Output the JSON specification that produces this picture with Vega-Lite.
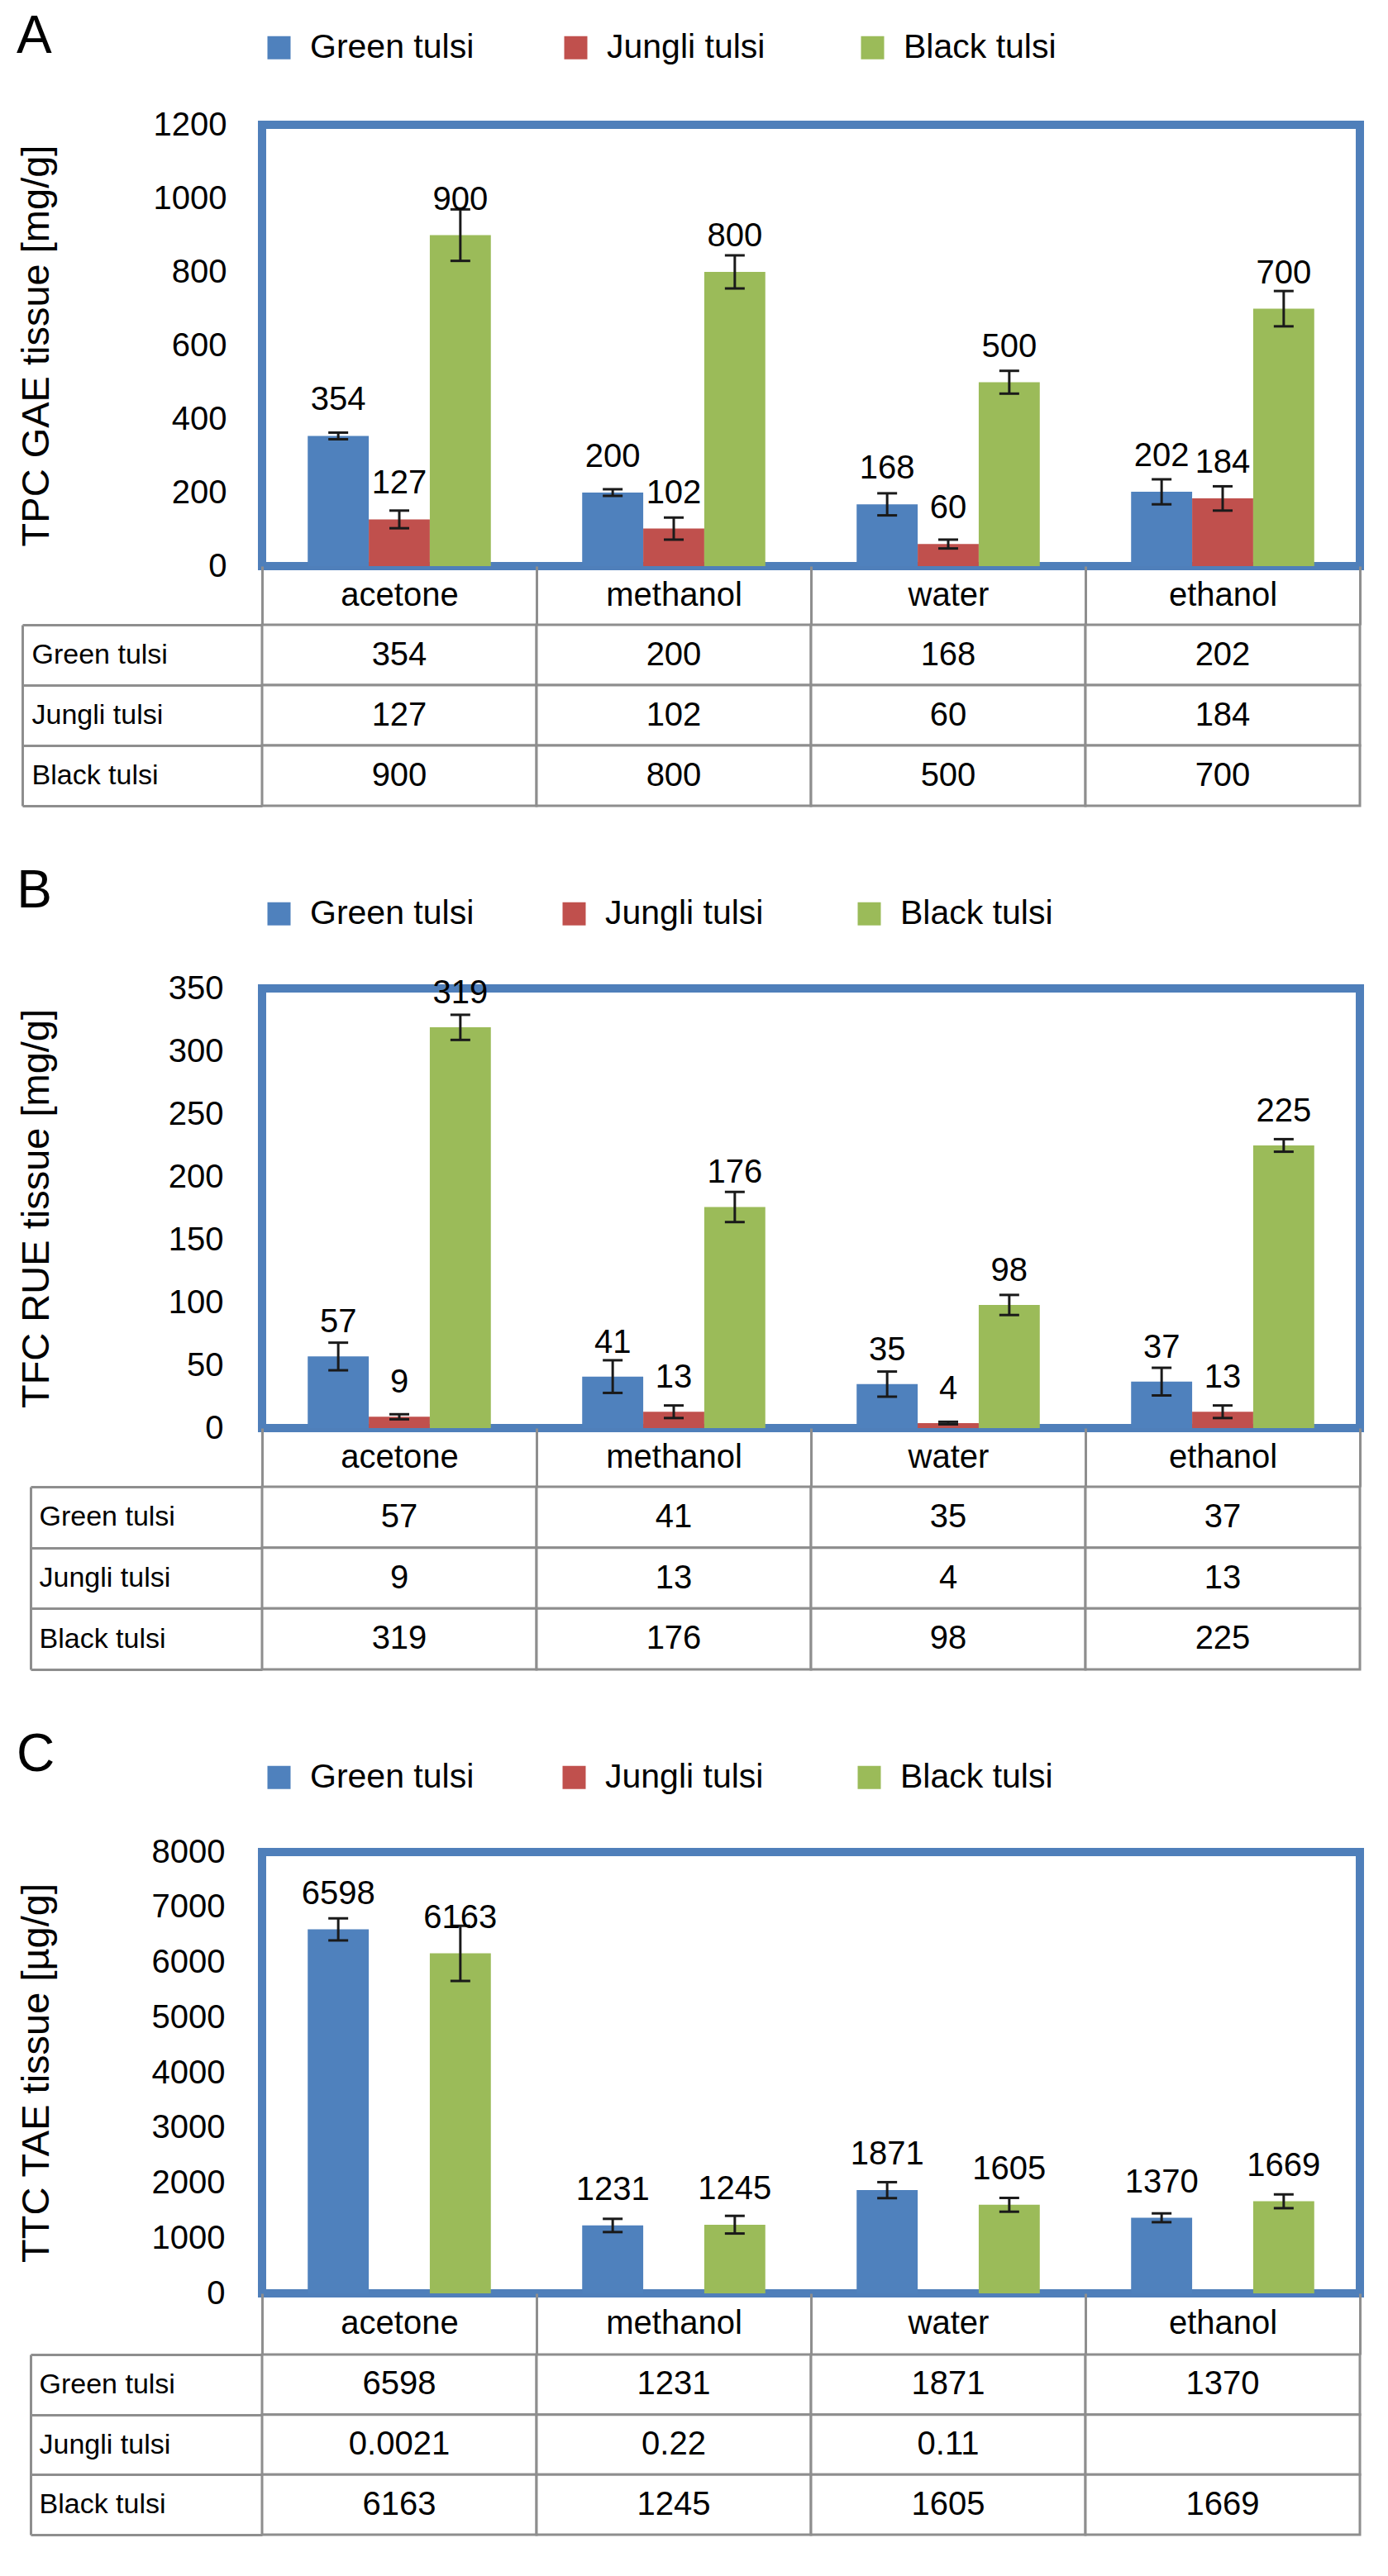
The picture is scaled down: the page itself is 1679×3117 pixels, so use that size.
{
  "$schema": "https://vega.github.io/schema/vega-lite/v6.json",
  "background": "white",
  "padding": {"left": 15, "top": 8, "right": 10, "bottom": 10},
  "config": {
    "font": "Liberation Sans",
    "view": {"stroke": null},
    "axis": {"labelColor": "black", "titleColor": "black", "grid": false}
  },
  "datasets": {
    "A": [
      {"solvent": "acetone", "series": "Green tulsi", "value": 354, "lo": 345, "hi": 363},
      {"solvent": "acetone", "series": "Jungli tulsi", "value": 127, "lo": 103, "hi": 151},
      {"solvent": "acetone", "series": "Black tulsi", "value": 900, "lo": 830, "hi": 970},
      {"solvent": "methanol", "series": "Green tulsi", "value": 200, "lo": 191, "hi": 209},
      {"solvent": "methanol", "series": "Jungli tulsi", "value": 102, "lo": 72, "hi": 132},
      {"solvent": "methanol", "series": "Black tulsi", "value": 800, "lo": 755, "hi": 845},
      {"solvent": "water", "series": "Green tulsi", "value": 168, "lo": 138, "hi": 198},
      {"solvent": "water", "series": "Jungli tulsi", "value": 60, "lo": 48, "hi": 72},
      {"solvent": "water", "series": "Black tulsi", "value": 500, "lo": 469, "hi": 531},
      {"solvent": "ethanol", "series": "Green tulsi", "value": 202, "lo": 168, "hi": 236},
      {"solvent": "ethanol", "series": "Jungli tulsi", "value": 184, "lo": 151, "hi": 217},
      {"solvent": "ethanol", "series": "Black tulsi", "value": 700, "lo": 652, "hi": 748}
    ],
    "B": [
      {"solvent": "acetone", "series": "Green tulsi", "value": 57, "lo": 46, "hi": 68},
      {"solvent": "acetone", "series": "Jungli tulsi", "value": 9, "lo": 7, "hi": 11},
      {"solvent": "acetone", "series": "Black tulsi", "value": 319, "lo": 309, "hi": 329},
      {"solvent": "methanol", "series": "Green tulsi", "value": 41, "lo": 28, "hi": 54},
      {"solvent": "methanol", "series": "Jungli tulsi", "value": 13, "lo": 8, "hi": 18},
      {"solvent": "methanol", "series": "Black tulsi", "value": 176, "lo": 164, "hi": 188},
      {"solvent": "water", "series": "Green tulsi", "value": 35, "lo": 25, "hi": 45},
      {"solvent": "water", "series": "Jungli tulsi", "value": 4, "lo": 3, "hi": 5},
      {"solvent": "water", "series": "Black tulsi", "value": 98, "lo": 90, "hi": 106},
      {"solvent": "ethanol", "series": "Green tulsi", "value": 37, "lo": 26, "hi": 48},
      {"solvent": "ethanol", "series": "Jungli tulsi", "value": 13, "lo": 8, "hi": 18},
      {"solvent": "ethanol", "series": "Black tulsi", "value": 225, "lo": 220, "hi": 230}
    ],
    "C": [
      {"solvent": "acetone", "series": "Green tulsi", "value": 6598, "lo": 6398, "hi": 6798},
      {"solvent": "acetone", "series": "Jungli tulsi", "value": 0.0021, "lo": null, "hi": null},
      {"solvent": "acetone", "series": "Black tulsi", "value": 6163, "lo": 5663, "hi": 6663},
      {"solvent": "methanol", "series": "Green tulsi", "value": 1231, "lo": 1111, "hi": 1351},
      {"solvent": "methanol", "series": "Jungli tulsi", "value": 0.22, "lo": null, "hi": null},
      {"solvent": "methanol", "series": "Black tulsi", "value": 1245, "lo": 1085, "hi": 1405},
      {"solvent": "water", "series": "Green tulsi", "value": 1871, "lo": 1726, "hi": 2016},
      {"solvent": "water", "series": "Jungli tulsi", "value": 0.11, "lo": null, "hi": null},
      {"solvent": "water", "series": "Black tulsi", "value": 1605, "lo": 1480, "hi": 1730},
      {"solvent": "ethanol", "series": "Green tulsi", "value": 1370, "lo": 1290, "hi": 1450},
      {"solvent": "ethanol", "series": "Jungli tulsi", "value": null, "lo": null, "hi": null},
      {"solvent": "ethanol", "series": "Black tulsi", "value": 1669, "lo": 1544, "hi": 1794}
    ]
  },
  "spacing": 65,
  "resolve": {"scale": {"color": "independent"}},
  "vconcat": [
    {
      "bounds": "flush",
      "spacing": 71,
      "resolve": {"scale": {"color": "independent"}},
      "vconcat": [
        {
          "data": {"name": "A"},
          "width": 1328,
          "height": 534,
          "view": {"stroke": "#4F7FBA", "strokeWidth": 10},
          "title": {"text": "A", "anchor": "start", "frame": "bounds", "fontSize": 64, "fontWeight": "normal", "color": "black", "offset": -40},
          "encoding": {
            "x": {"field": "solvent", "type": "nominal", "sort": ["acetone", "methanol", "water", "ethanol"], "scale": {"paddingInner": 0, "paddingOuter": 0},
              "axis": {"title": null, "domain": false, "ticks": true, "tickBand": "extent", "tickSize": 71, "tickColor": "#8E8E8E", "tickWidth": 3, "labelAngle": 0, "labelFontSize": 40, "labelPadding": -36, "labelBaseline": "middle"}},
            "xOffset": {"field": "series", "type": "nominal", "sort": ["Green tulsi", "Jungli tulsi", "Black tulsi"], "scale": {"paddingInner": 0, "paddingOuter": 0.748}}
          },
          "layer": [
            {
              "mark": {"type": "bar"},
              "encoding": {
                "y": {"field": "value", "type": "quantitative", "title": "TPC GAE tissue [mg/g]", "scale": {"domain": [0, 1200], "nice": false},
                  "axis": {"values": [0, 200, 400, 600, 800, 1000, 1200], "format": "d", "ticks": false, "domain": false, "labelFontSize": 40, "labelPadding": 43, "titleFontSize": 47, "titleFontWeight": "normal", "titlePadding": 117}},
                "color": {"field": "series", "type": "nominal", "scale": {"domain": ["Green tulsi", "Jungli tulsi", "Black tulsi"], "range": ["#4F81BD", "#C0504D", "#9BBB59"]},
                  "legend": {"orient": "top", "direction": "horizontal", "title": null, "symbolType": "square", "symbolSize": 784, "symbolStrokeWidth": 0, "labelFontSize": 41, "labelLimit": 400, "labelOffset": 17, "columnPadding": 102, "gridAlign": "all", "padding": 0, "offset": 73, "labelColor": "black"}}
              }
            },
            {
              "mark": {"type": "rule", "color": "#1a1a1a", "strokeWidth": 3},
              "encoding": {"y": {"field": "lo", "type": "quantitative", "title": "TPC GAE tissue [mg/g]", "scale": {"domain": [0, 1200], "nice": false}}, "y2": {"field": "hi"}}
            },
            {
              "mark": {"type": "tick", "orient": "horizontal", "size": 24, "thickness": 3, "color": "#1a1a1a", "opacity": 1},
              "encoding": {"y": {"field": "lo", "type": "quantitative", "title": "TPC GAE tissue [mg/g]", "scale": {"domain": [0, 1200], "nice": false}}}
            },
            {
              "mark": {"type": "tick", "orient": "horizontal", "size": 24, "thickness": 3, "color": "#1a1a1a", "opacity": 1},
              "encoding": {"y": {"field": "hi", "type": "quantitative", "title": "TPC GAE tissue [mg/g]", "scale": {"domain": [0, 1200], "nice": false}}}
            },
            {
              "mark": {"type": "text", "dy": -31, "fontSize": 40, "baseline": "alphabetic", "color": "black"},
              "encoding": {"y": {"field": "value", "type": "quantitative", "title": "TPC GAE tissue [mg/g]", "scale": {"domain": [0, 1200], "nice": false}}, "text": {"field": "value", "type": "quantitative"}}
            }
          ]
        },
        {
          "data": {"name": "A"},
          "width": 1328,
          "height": 219,
          "encoding": {
            "x": {"field": "solvent", "type": "nominal", "sort": ["acetone", "methanol", "water", "ethanol"], "scale": {"paddingInner": 0, "paddingOuter": 0}, "axis": null},
            "y": {"field": "series", "type": "nominal", "sort": ["Green tulsi", "Jungli tulsi", "Black tulsi"], "scale": {"paddingInner": 0, "paddingOuter": 0},
              "axis": {"orient": "left", "offset": 290, "title": null, "domain": true, "domainColor": "#8E8E8E", "domainWidth": 3, "ticks": true, "tickBand": "extent", "tickSize": -290, "tickColor": "#8E8E8E", "tickWidth": 3, "labelAlign": "left", "labelBaseline": "middle", "labelPadding": 279, "labelFontSize": 34, "labelLimit": 400}}
          },
          "layer": [
            {"mark": {"type": "rect", "fill": "white", "stroke": "#8E8E8E", "strokeWidth": 3}},
            {"transform": [{"filter": "datum.value != null"}], "mark": {"type": "text", "fontSize": 40, "baseline": "middle", "color": "black"}, "encoding": {"text": {"field": "value", "type": "quantitative"}}}
          ]
        }
      ]
    },
    {
      "bounds": "flush",
      "spacing": 71,
      "resolve": {"scale": {"color": "independent"}},
      "vconcat": [
        {
          "data": {"name": "B"},
          "width": 1328,
          "height": 532,
          "view": {"stroke": "#4F7FBA", "strokeWidth": 10},
          "title": {"text": "B", "anchor": "start", "frame": "bounds", "fontSize": 64, "fontWeight": "normal", "color": "black", "offset": -26},
          "encoding": {
            "x": {"field": "solvent", "type": "nominal", "sort": ["acetone", "methanol", "water", "ethanol"], "scale": {"paddingInner": 0, "paddingOuter": 0},
              "axis": {"title": null, "domain": false, "ticks": true, "tickBand": "extent", "tickSize": 71, "tickColor": "#8E8E8E", "tickWidth": 3, "labelAngle": 0, "labelFontSize": 40, "labelPadding": -36, "labelBaseline": "middle"}},
            "xOffset": {"field": "series", "type": "nominal", "sort": ["Green tulsi", "Jungli tulsi", "Black tulsi"], "scale": {"paddingInner": 0, "paddingOuter": 0.748}}
          },
          "layer": [
            {
              "mark": {"type": "bar"},
              "encoding": {
                "y": {"field": "value", "type": "quantitative", "title": "TFC RUE tissue [mg/g]", "scale": {"domain": [0, 350], "nice": false},
                  "axis": {"values": [0, 50, 100, 150, 200, 250, 300, 350], "format": "d", "ticks": false, "domain": false, "labelFontSize": 40, "labelPadding": 47, "titleFontSize": 47, "titleFontWeight": "normal", "titlePadding": 135}},
                "color": {"field": "series", "type": "nominal", "scale": {"domain": ["Green tulsi", "Jungli tulsi", "Black tulsi"], "range": ["#4F81BD", "#C0504D", "#9BBB59"]},
                  "legend": {"orient": "top", "direction": "horizontal", "title": null, "symbolType": "square", "symbolSize": 784, "symbolStrokeWidth": 0, "labelFontSize": 41, "labelLimit": 400, "labelOffset": 17, "columnPadding": 100, "gridAlign": "all", "padding": 0, "offset": 70, "labelColor": "black"}}
              }
            },
            {
              "mark": {"type": "rule", "color": "#1a1a1a", "strokeWidth": 3},
              "encoding": {"y": {"field": "lo", "type": "quantitative", "title": "TFC RUE tissue [mg/g]", "scale": {"domain": [0, 350], "nice": false}}, "y2": {"field": "hi"}}
            },
            {
              "mark": {"type": "tick", "orient": "horizontal", "size": 24, "thickness": 3, "color": "#1a1a1a", "opacity": 1},
              "encoding": {"y": {"field": "lo", "type": "quantitative", "title": "TFC RUE tissue [mg/g]", "scale": {"domain": [0, 350], "nice": false}}}
            },
            {
              "mark": {"type": "tick", "orient": "horizontal", "size": 24, "thickness": 3, "color": "#1a1a1a", "opacity": 1},
              "encoding": {"y": {"field": "hi", "type": "quantitative", "title": "TFC RUE tissue [mg/g]", "scale": {"domain": [0, 350], "nice": false}}}
            },
            {
              "mark": {"type": "text", "dy": -29, "fontSize": 40, "baseline": "alphabetic", "color": "black"},
              "encoding": {"y": {"field": "value", "type": "quantitative", "title": "TFC RUE tissue [mg/g]", "scale": {"domain": [0, 350], "nice": false}}, "text": {"field": "value", "type": "quantitative"}}
            }
          ]
        },
        {
          "data": {"name": "B"},
          "width": 1328,
          "height": 221,
          "encoding": {
            "x": {"field": "solvent", "type": "nominal", "sort": ["acetone", "methanol", "water", "ethanol"], "scale": {"paddingInner": 0, "paddingOuter": 0}, "axis": null},
            "y": {"field": "series", "type": "nominal", "sort": ["Green tulsi", "Jungli tulsi", "Black tulsi"], "scale": {"paddingInner": 0, "paddingOuter": 0},
              "axis": {"orient": "left", "offset": 280, "title": null, "domain": true, "domainColor": "#8E8E8E", "domainWidth": 3, "ticks": true, "tickBand": "extent", "tickSize": -280, "tickColor": "#8E8E8E", "tickWidth": 3, "labelAlign": "left", "labelBaseline": "middle", "labelPadding": 270, "labelFontSize": 34, "labelLimit": 400}}
          },
          "layer": [
            {"mark": {"type": "rect", "fill": "white", "stroke": "#8E8E8E", "strokeWidth": 3}},
            {"transform": [{"filter": "datum.value != null"}], "mark": {"type": "text", "fontSize": 40, "baseline": "middle", "color": "black"}, "encoding": {"text": {"field": "value", "type": "quantitative"}}}
          ]
        }
      ]
    },
    {
      "bounds": "flush",
      "spacing": 74,
      "resolve": {"scale": {"color": "independent"}},
      "vconcat": [
        {
          "data": {"name": "C"},
          "width": 1328,
          "height": 534,
          "view": {"stroke": "#4F7FBA", "strokeWidth": 10},
          "title": {"text": "C", "anchor": "start", "frame": "bounds", "fontSize": 64, "fontWeight": "normal", "color": "black", "offset": -26},
          "encoding": {
            "x": {"field": "solvent", "type": "nominal", "sort": ["acetone", "methanol", "water", "ethanol"], "scale": {"paddingInner": 0, "paddingOuter": 0},
              "axis": {"title": null, "domain": false, "ticks": true, "tickBand": "extent", "tickSize": 74, "tickColor": "#8E8E8E", "tickWidth": 3, "labelAngle": 0, "labelFontSize": 40, "labelPadding": -38, "labelBaseline": "middle"}},
            "xOffset": {"field": "series", "type": "nominal", "sort": ["Green tulsi", "Jungli tulsi", "Black tulsi"], "scale": {"paddingInner": 0, "paddingOuter": 0.748}}
          },
          "layer": [
            {
              "mark": {"type": "bar"},
              "encoding": {
                "y": {"field": "value", "type": "quantitative", "title": "TTC TAE tissue [µg/g]", "scale": {"domain": [0, 8000], "nice": false},
                  "axis": {"values": [0, 1000, 2000, 3000, 4000, 5000, 6000, 7000, 8000], "format": "d", "ticks": false, "domain": false, "labelFontSize": 40, "labelPadding": 45, "titleFontSize": 47, "titleFontWeight": "normal", "titlePadding": 115}},
                "color": {"field": "series", "type": "nominal", "scale": {"domain": ["Green tulsi", "Jungli tulsi", "Black tulsi"], "range": ["#4F81BD", "#C0504D", "#9BBB59"]},
                  "legend": {"orient": "top", "direction": "horizontal", "title": null, "symbolType": "square", "symbolSize": 784, "symbolStrokeWidth": 0, "labelFontSize": 41, "labelLimit": 400, "labelOffset": 17, "columnPadding": 100, "gridAlign": "all", "padding": 0, "offset": 70, "labelColor": "black"}}
              }
            },
            {
              "mark": {"type": "rule", "color": "#1a1a1a", "strokeWidth": 3},
              "encoding": {"y": {"field": "lo", "type": "quantitative", "title": "TTC TAE tissue [µg/g]", "scale": {"domain": [0, 8000], "nice": false}}, "y2": {"field": "hi"}}
            },
            {
              "mark": {"type": "tick", "orient": "horizontal", "size": 24, "thickness": 3, "color": "#1a1a1a", "opacity": 1},
              "encoding": {"y": {"field": "lo", "type": "quantitative", "title": "TTC TAE tissue [µg/g]", "scale": {"domain": [0, 8000], "nice": false}}}
            },
            {
              "mark": {"type": "tick", "orient": "horizontal", "size": 24, "thickness": 3, "color": "#1a1a1a", "opacity": 1},
              "encoding": {"y": {"field": "hi", "type": "quantitative", "title": "TTC TAE tissue [µg/g]", "scale": {"domain": [0, 8000], "nice": false}}}
            },
            {
              "transform": [{"filter": "datum.series !== 'Jungli tulsi'"}],
              "mark": {"type": "text", "dy": -31, "fontSize": 40, "baseline": "alphabetic", "color": "black"},
              "encoding": {"y": {"field": "value", "type": "quantitative", "title": "TTC TAE tissue [µg/g]", "scale": {"domain": [0, 8000], "nice": false}}, "text": {"field": "value", "type": "quantitative"}}
            }
          ]
        },
        {
          "data": {"name": "C"},
          "width": 1328,
          "height": 218,
          "encoding": {
            "x": {"field": "solvent", "type": "nominal", "sort": ["acetone", "methanol", "water", "ethanol"], "scale": {"paddingInner": 0, "paddingOuter": 0}, "axis": null},
            "y": {"field": "series", "type": "nominal", "sort": ["Green tulsi", "Jungli tulsi", "Black tulsi"], "scale": {"paddingInner": 0, "paddingOuter": 0},
              "axis": {"orient": "left", "offset": 280, "title": null, "domain": true, "domainColor": "#8E8E8E", "domainWidth": 3, "ticks": true, "tickBand": "extent", "tickSize": -280, "tickColor": "#8E8E8E", "tickWidth": 3, "labelAlign": "left", "labelBaseline": "middle", "labelPadding": 270, "labelFontSize": 34, "labelLimit": 400}}
          },
          "layer": [
            {"mark": {"type": "rect", "fill": "white", "stroke": "#8E8E8E", "strokeWidth": 3}},
            {"transform": [{"filter": "datum.value != null"}], "mark": {"type": "text", "fontSize": 40, "baseline": "middle", "color": "black"}, "encoding": {"text": {"field": "value", "type": "quantitative"}}}
          ]
        }
      ]
    }
  ]
}
